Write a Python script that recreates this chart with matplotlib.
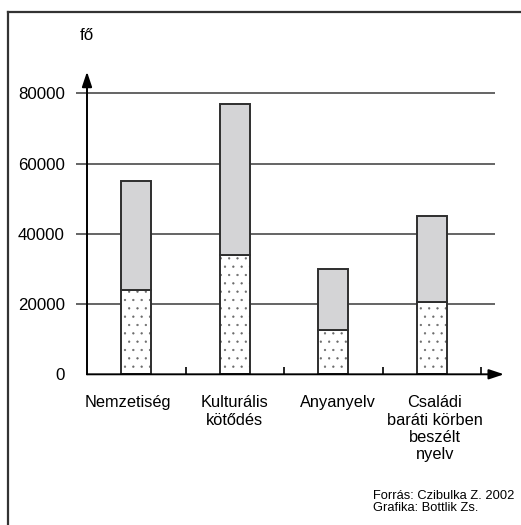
import matplotlib
matplotlib.use("Agg")

import matplotlib.pyplot as plt
from matplotlib.lines import Line2D

plt.rcParams["font.family"] = ["Liberation Sans", "DejaVu Sans"]
plt.rcParams["hatch.linewidth"] = 0.4

# Data (fő)
categories = ["Nemzetiség", "Kulturális\nkötődés", "Anyanyelv",
              "Családi\nbaráti körben\nbeszélt\nnyelv"]
lower_vals = [24000, 34000, 12500, 20500]
total_vals = [55000, 77000, 30000, 45000]
upper_vals = [t - l for t, l in zip(total_vals, lower_vals)]
yticks = [0, 20000, 40000, 60000, 80000]

C_GRID = "#3a3a3a"
C_EDGE = "#2e2e2e"
C_FILL = "#d4d4d6"
C_DOT = "#6a6a6a"

W, H = 521, 525
fig = plt.figure(figsize=(W / 100, H / 100), dpi=100)
fig.patch.set_facecolor("white")

# axes: y axis at x=87px, zero at y=374px, arrow tips at x=504 / y=72
ax = fig.add_axes([87 / W, (H - 374.3) / H, (504 - 87) / W, (374.3 - 71.7) / H])
ax.set_xlim(-0.5, 3.73)
ax.set_ylim(0, 86200)
for s in ax.spines.values():
    s.set_visible(False)
ax.patch.set_alpha(0)

# gridlines (extend left of the axis like ticks)
ax.hlines(yticks[1:], -0.61, 3.64, color=C_GRID, lw=1.1, clip_on=False, zorder=1)

x = list(range(len(categories)))
bw = 0.305
# dotted lower part: hatch in gray, outline drawn separately
ax.bar(x, lower_vals, bw, color="white", edgecolor=C_DOT, lw=0,
       hatch="..", zorder=3)
ax.bar(x, lower_vals, bw, fill=False, edgecolor=C_EDGE, lw=1.4, zorder=4)
ax.bar(x, upper_vals, bw, bottom=lower_vals, color=C_FILL, edgecolor=C_EDGE,
       lw=1.4, zorder=4)

# axes with arrows
arrow = dict(arrowstyle="-|>,head_length=0.9,head_width=0.3", color="black",
             lw=1.4, shrinkA=0, shrinkB=0)
ax.annotate("", xy=(3.73, 0), xytext=(-0.5, 0), arrowprops=arrow,
            annotation_clip=False, zorder=5)
ax.annotate("", xy=(-0.5, 86200), xytext=(-0.5, 0), arrowprops=arrow,
            annotation_clip=False, zorder=5)

# ticks
ax.set_xticks([0.5, 1.5, 2.5, 3.5])
ax.set_xticklabels([])
ax.tick_params(axis="x", direction="in", length=5, width=1.2, color="black")
ax.set_yticks(yticks)
ax.set_yticklabels([str(v) for v in yticks], fontsize=12.2)
ax.tick_params(axis="y", length=0, pad=16)

# category labels
shifts = [-6, 0, 3, 2]
for xi, lab, dx in zip(x, categories, shifts):
    ax.annotate(lab, xy=(xi, 0), xytext=(dx, -15), textcoords="offset points",
                ha="center", va="top", fontsize=11.8, linespacing=1.2,
                annotation_clip=False)

# unit label
fig.text(87 / W, 1 - 36 / H, "fő", fontsize=12.2, ha="center", va="center")

# source
fig.text(373 / W, 1 - 502 / H, "Forrás: Czibulka Z. 2002\nGrafika: Bottlik Zs.",
         fontsize=9.3, ha="left", va="center", linespacing=1.05)

# frame (top and left only, the rest is cut off)
fig.add_artist(Line2D([8 / W, 1], [1 - 12 / H, 1 - 12 / H], color="#333333", lw=1.6))
fig.add_artist(Line2D([8 / W, 8 / W], [0, 1 - 12 / H], color="#333333", lw=1.6))

fig.savefig("out.png", dpi=100, facecolor="white")
